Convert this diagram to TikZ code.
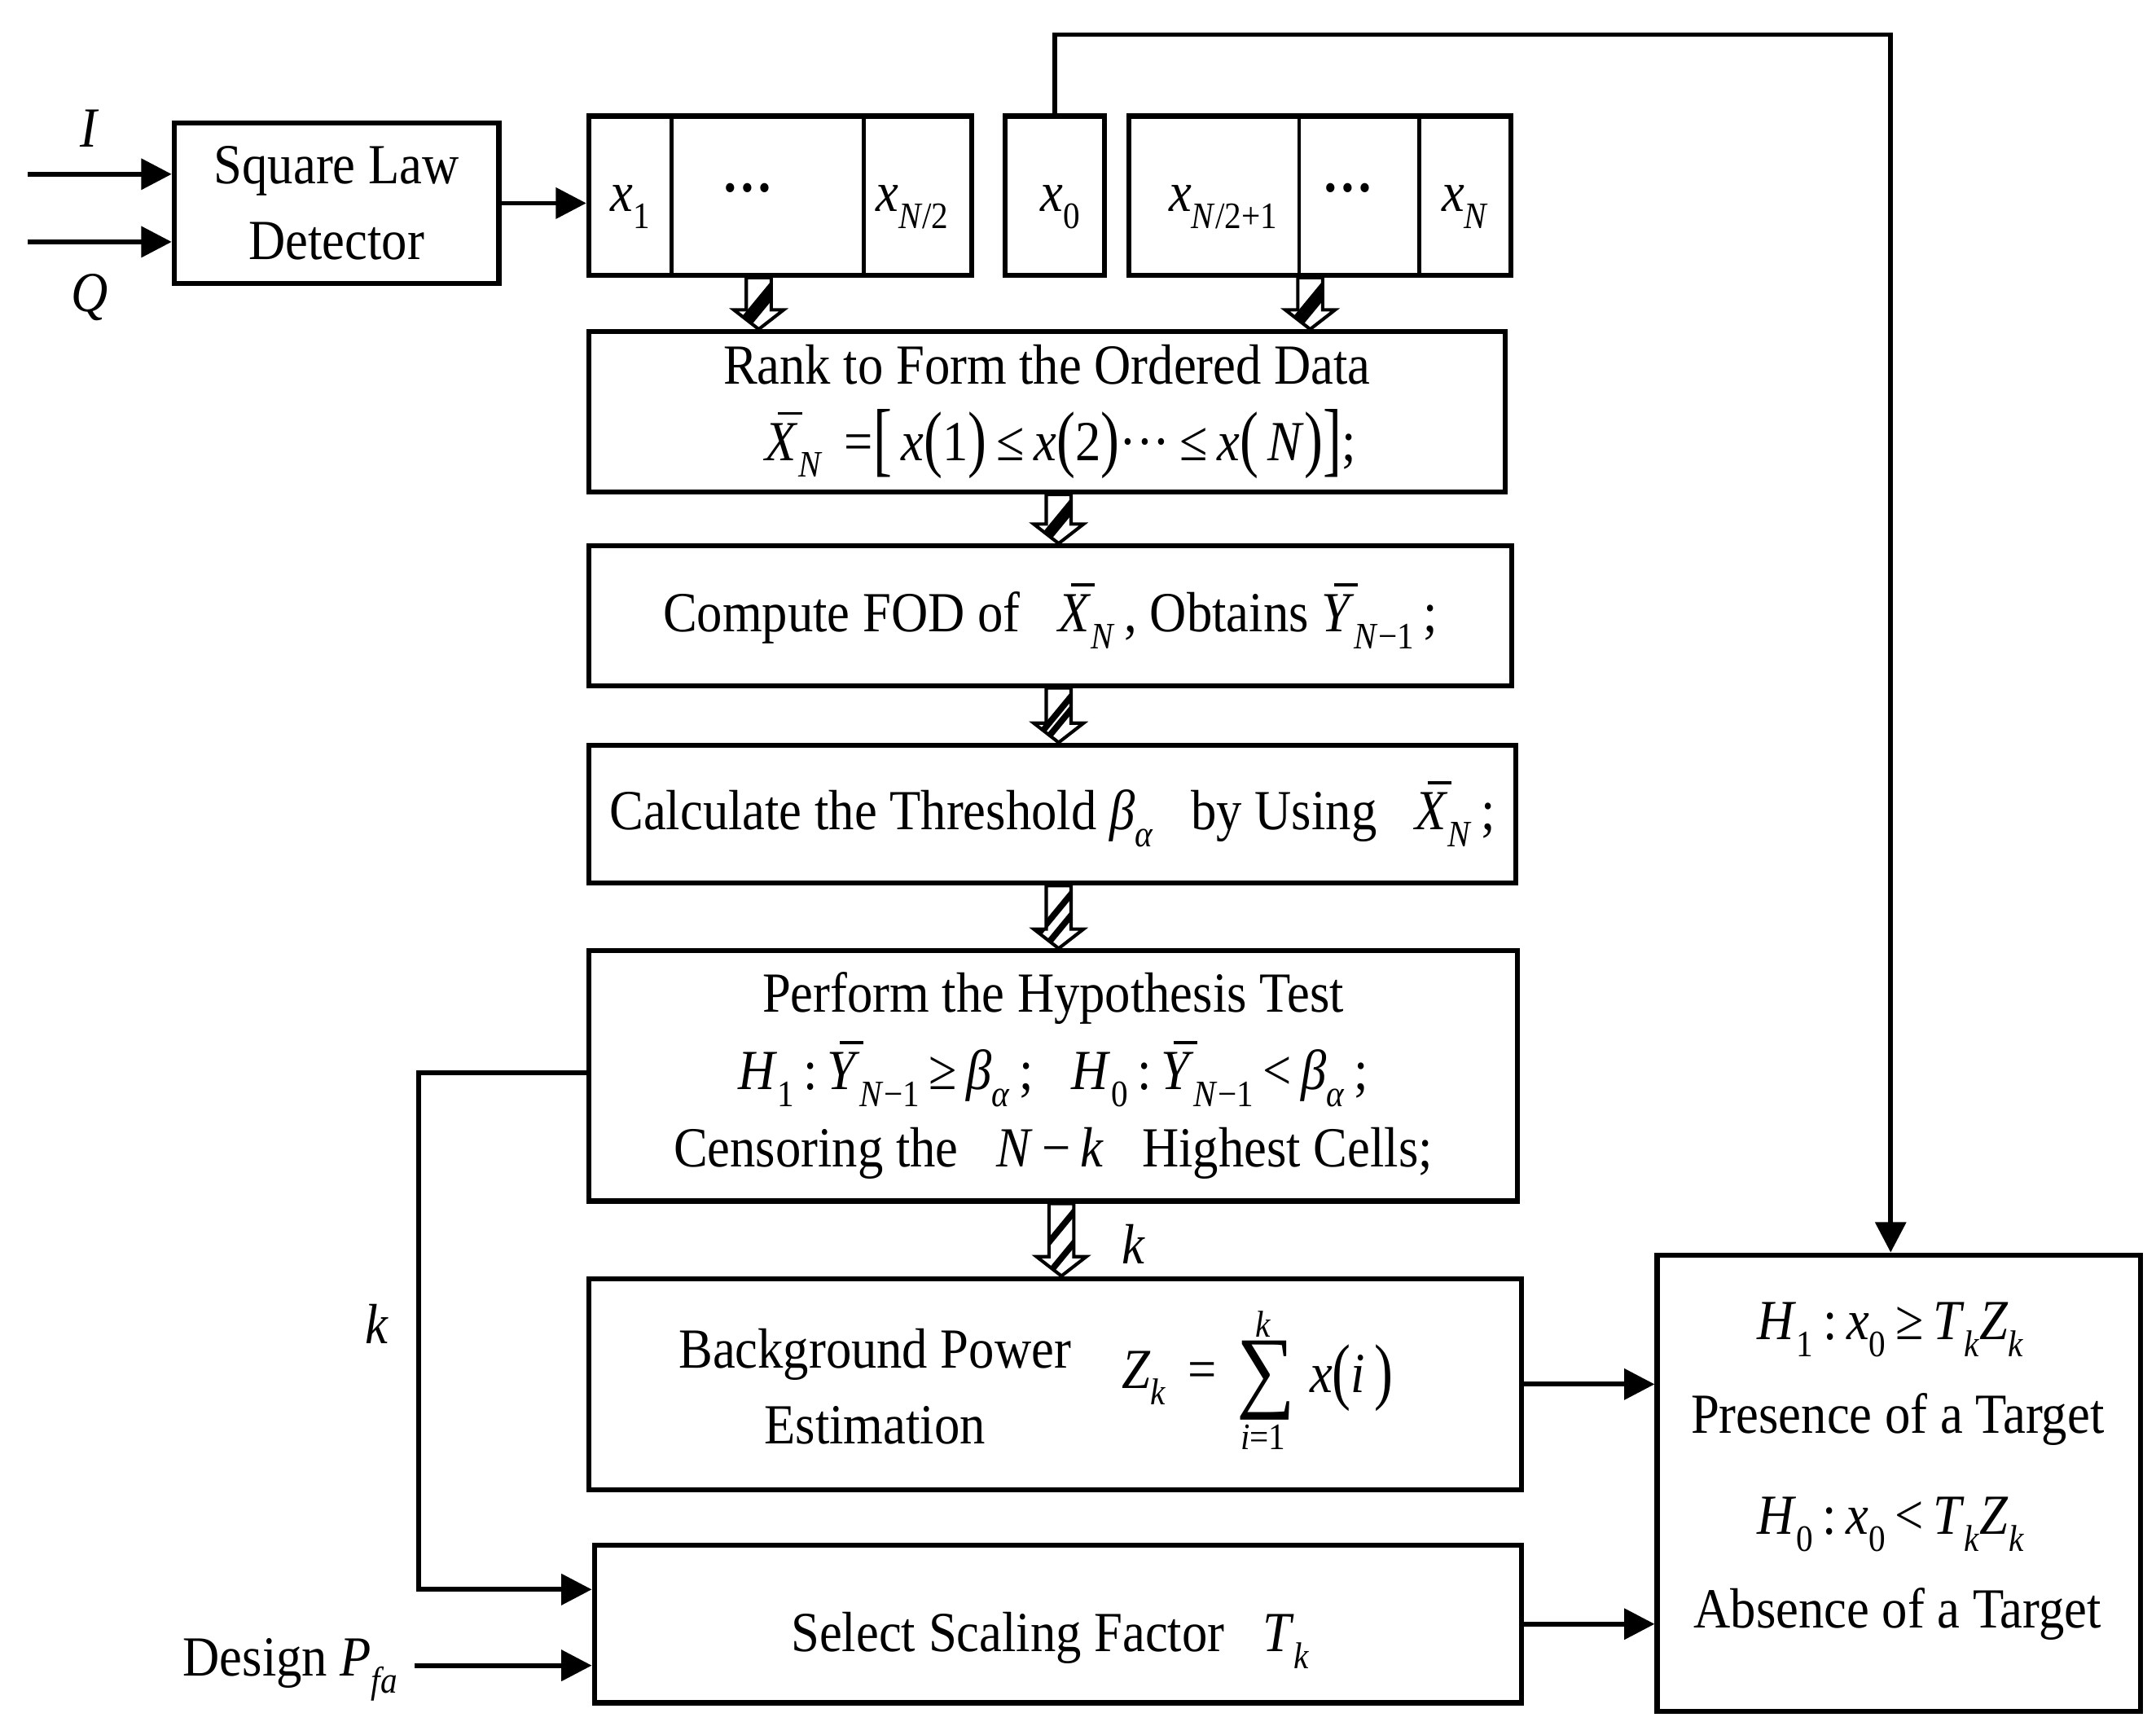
\documentclass[tikz,border=0pt]{standalone}
\usepackage{fontspec}
\usepackage{graphicx}
\setmainfont{Liberation Serif}[FakeStretch=0.9]
\usetikzlibrary{arrows.meta,calc,backgrounds}
\newcommand\vi[1]{\textit{#1}}
\newcommand\sbs[1]{\raisebox{-0.3em}{\fontsize{27}{27}\selectfont #1}}
\newcommand\sbi[1]{\sbs{\textit{#1}}}
\newcommand\ob[1]{\leavevmode\rlap{\hspace{0.22em}\rule[0.8em]{0.42em}{0.055em}}#1}
\newcommand\tp[1]{\raisebox{-0.05em}{\scalebox{1.1}[1.3]{#1}}}
\newcommand\tb[1]{\raisebox{-0.1em}{\scalebox{1.1}[1.45]{#1}}}
\newcommand\harrow[2]{%
 \fill[white] let \p1=(#1),\p2=(#2) in (\x1-9pt,\y1) -- (\x1+9pt,\y1) -- (\x1+9pt,\y2+14pt) -- (\x1+18pt,\y2+14pt) -- (\x1,\y2) -- (\x1-18pt,\y2+14pt) -- (\x1-9pt,\y2+14pt) -- cycle;
 \begin{scope}
 \clip let \p1=(#1),\p2=(#2) in (\x1-9pt,\y1) -- (\x1+9pt,\y1) -- (\x1+9pt,\y2+14pt) -- (\x1+18pt,\y2+14pt) -- (\x1,\y2) -- (\x1-18pt,\y2+14pt) -- (\x1-9pt,\y2+14pt) -- cycle;
 \draw[line width=4.5pt] let \p1=(#1),\p2=(#2) in (\x1+14pt,\y1) -- (\x1-14pt,\y1-34pt) (\x1+14pt,\y2+30pt) -- (\x1-14pt,\y2-4pt);
 \end{scope}
 \draw[line width=2.4pt] let \p1=(#1),\p2=(#2) in (\x1-9pt,\y1) -- (\x1+9pt,\y1) -- (\x1+9pt,\y2+14pt) -- (\x1+18pt,\y2+14pt) -- (\x1,\y2) -- (\x1-18pt,\y2+14pt) -- (\x1-9pt,\y2+14pt) -- cycle;
}
\tikzset{
 box/.style={draw, line width=3.6pt, inner sep=0pt, align=center},
 conn/.style={line width=3.4pt, -{Triangle[length=22pt,width=22pt]}},
 div/.style={line width=2.8pt},
}
\begin{document}
\begin{tikzpicture}[x=1pt,y=-1pt,font=\fontsize{41}{55}\selectfont, inner sep=0pt, align=center]
\useasboundingbox (0,0) rectangle (1560,1255);
% boxes
\node[box, minimum width=235, minimum height=116] (sld) at (243.5,147) {Square Law\\Detector};
\node[box, minimum width=277, minimum height=115] (reg1) at (564.5,141.5) {};
\node[box, minimum width=72, minimum height=115] (x0b) at (763,141.5) {};
\node[box, minimum width=276, minimum height=115] (reg2) at (955,141.5) {};
\draw[div] (486,84) -- (486,199) (625,84) -- (625,199);
\draw[div] (940,84) -- (940,199) (1027,84) -- (1027,199);
\node[anchor=base] (c1) at (456,153) {\vi{x}\sbs{1}};
\node (c2) at (541,141) {\raisebox{0.25em}{\textbf{…}}};
\node[anchor=base] (c3) at (660,153) {\vi{x}\sbs{\vi{N}/2}};
\node[anchor=base] (c0) at (767,153) {\vi{x}\sbs{0}};
\node[anchor=base] (c4) at (885,153) {\vi{x}\sbs{\vi{N}/2+1}};
\node (c5) at (975,141) {\raisebox{0.25em}{\textbf{…}}};
\node[anchor=base] (c6) at (1060,153) {\vi{x}\sbi{N}};

\node[box, minimum width=663, minimum height=116] (rank) at (757.5,298)
 {Rank to Form the Ordered Data\\ \hspace*{20pt}\ob{\vi{X}}\sbi{N} \,=\tb{[}\,\vi{x}\tp{(}1\tp{)}\,≤\,\vi{x}\tp{(}2\tp{)}···\,≤\,\vi{x}\tp{(}\,\vi{N}\tp{)}\tb{]};};
\node[box, minimum width=668, minimum height=101] (fod) at (760,445.5)
 {Compute FOD of \ \ \ob{\vi{X}}\sbi{N}\,, Obtains \ob{\vi{Y}}\sbs{\vi{N}−1}\,;};
\node[box, minimum width=671, minimum height=100] (calc) at (761.5,589)
 {Calculate the Threshold \vi{β}\sbi{α} \ \ by Using \ \ \ob{\vi{X}}\sbi{N}\,;};
\node[box, minimum width=672, minimum height=181] (perf) at (762,778.5)
 {Perform the Hypothesis Test\\[1pt] \vi{H}\sbs{1}\,:\,\ob{\vi{Y}}\sbs{\vi{N}−1}\,≥\,\vi{β}\sbi{α}\,; \ \ \vi{H}\sbs{0}\,:\,\ob{\vi{Y}}\sbs{\vi{N}−1}\,<\,\vi{β}\sbi{α}\,;\\[1pt] Censoring the \ \ \vi{N}\,−\,\vi{k} \ \ Highest Cells;};
\node[box, minimum width=675, minimum height=153] (bg) at (763.5,1001.5) {};
\node (bgt) at (633,1003) {Background Power\\Estimation};
\node (zk) at (846,997) {\vi{Z}\sbi{k} \,=};
\node (sum) at (916,999) {\fontsize{66}{66}\selectfont ∑};
\node (sumk) at (914,958) {\fontsize{27}{27}\selectfont\vi{k}};
\node (sumi) at (914,1040) {\fontsize{27}{27}\selectfont\vi{i}=1};
\node (xi) at (978,997) {\vi{x}\tp{(}\vi{i}\,\tp{)}};
\node[box, minimum width=671, minimum height=114] (sel) at (765.5,1175) {};
\node (selt) at (760,1187) {Select Scaling Factor \ \ \vi{T}\sbi{k}};
\node[box, minimum width=350, minimum height=330] (dec) at (1374,1073) {};
\node (d1) at (1368,962) {\vi{H}\sbs{1}\,:\,\vi{x}\sbs{0}\,≥\,\vi{T}\sbi{k}\vi{Z}\sbi{k}};
\node (d2) at (1373,1027) {Presence of a Target};
\node (d3) at (1368,1103) {\vi{H}\sbs{0}\,:\,\vi{x}\sbs{0}\,<\,\vi{T}\sbi{k}\vi{Z}\sbi{k}};
\node (d4) at (1373,1168) {Absence of a Target};

% labels
\node (lI) at (65,93) {\vi{I}};
\node (lQ) at (65,215) {\vi{Q}};
\node (lk1) at (273,958) {\vi{k}};
\node (lk2) at (820,900) {\vi{k}};
\node (lp) at (210,1208) {Design \vi{P}\sbi{fa}};

% hatched arrows
\coordinate (h1) at (549,0);
\coordinate (h2) at (948,0);
\coordinate (hm) at (766,0);
\coordinate (hn) at (768,0);
\begin{scope}[on background layer]
\harrow{reg1.south -| h1}{rank.north -| h1}
\harrow{reg2.south -| h2}{rank.north -| h2}
\harrow{rank.south -| hm}{fod.north -| hm}
\harrow{fod.south -| hm}{calc.north -| hm}
\harrow{calc.south -| hm}{perf.north -| hm}
\harrow{perf.south -| hn}{bg.north -| hn}
\end{scope}

% connectors
\coordinate (iin) at (20,126);
\coordinate (qin) at (20,175);
\coordinate (tpc) at (1368,25);
\coordinate (fb1) at (303,776);
\coordinate (fb2) at (303,1150);
\coordinate (pfa) at (300,1205);
\draw[conn] (iin) -- (iin -| sld.west);
\draw[conn] (qin) -- (qin -| sld.west);
\draw[conn] (sld.east) -- (sld.east -| reg1.west);
\draw[conn] (x0b.north) |- (tpc) -- (tpc |- dec.north);
\draw[conn] (fb1 -| perf.west) -- (fb1) -- (fb2) -- (fb2 -| sel.west);
\draw[conn] (pfa) -- (pfa -| sel.west);
\draw[conn] (bg.east) -- (bg.east -| dec.west);
\draw[conn] (sel.east) -- (sel.east -| dec.west);
\end{tikzpicture}
\end{document}
